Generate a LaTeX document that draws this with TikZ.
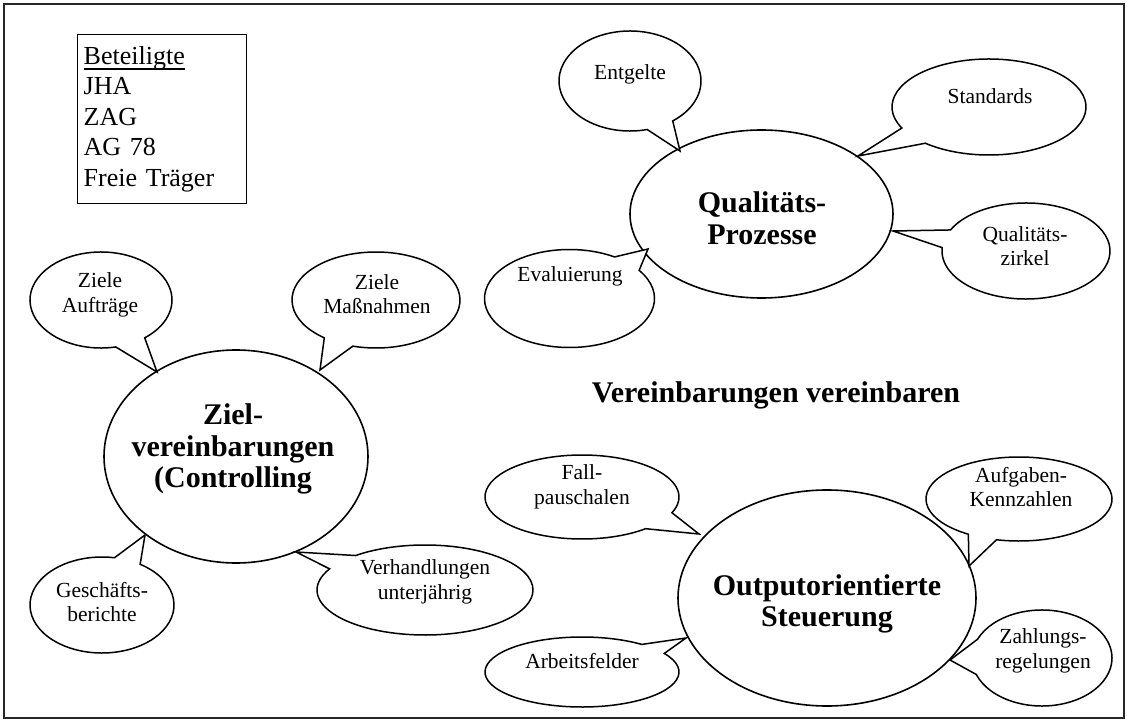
\documentclass[tikz,border=0pt]{standalone}
\usepackage{fontspec}
\setmainfont{Liberation Serif}
\usetikzlibrary{shapes.geometric}

\tikzset{
  frame/.style={draw=black!85, line width=1.6pt},
  mainell/.style={ellipse, draw, line width=1.6pt, inner sep=0pt},
  bubble/.style={draw, fill=white, line width=1.5pt, line join=miter},
  small/.style={font=\fontsize{21.5}{24.5}\selectfont, align=center, inner sep=0pt},
  big/.style={font=\fontsize{30}{31.5}\selectfont\bfseries, align=center, inner sep=0pt},
  listbox/.style={draw, line width=1.4pt, anchor=north west, text width=157pt,
    inner xsep=6pt, inner ysep=11.5pt, align=left,
    font=\fontsize{26}{30.5}\selectfont},
}

% heavy underline for the list heading
\newcommand\heading[1]{{\setbox0\hbox{#1}\rlap{\rule[-5.5pt]{\wd0}{1.8pt}}\box0}}

% speech bubble: #1 centre (x,y without brackets), #2 x radius, #3 y radius,
% #4/#5 angles where the tail leaves the outline, #6 tail tip
\newcommand\callbubble[6]{%
  \draw[bubble] ([shift={(#5:#2 and #3)}]#1)
    arc[start angle=#5, end angle={#4+360}, x radius=#2, y radius=#3]
    -- #6 -- cycle;}

\begin{document}
\begin{tikzpicture}[x=1pt, y=-1pt]
\useasboundingbox (0,0) rectangle (1128,722);
\draw[frame] (4,4) rectangle (1124,718);

% list of participants
\node[listbox] (bet) at (77,34)
  {\heading{Beteiligte}\\JHA\\ZAG\\AG 78\\Freie Träger};

% the three central topics
\node[mainell, minimum width=263pt, minimum height=168pt] (qual) at (761.5,214) {};
\node[big] (qualtext) at (762,218) {Qualitäts-\\Prozesse};

\node[mainell, minimum width=264pt, minimum height=213pt] (ziel) at (236,456.5) {};
\node[big] (zieltext) at (233,449) {Ziel-\\vereinbarungen\\(Controlling};

\node[mainell, minimum width=298pt, minimum height=216pt] (out) at (827,598) {};
\node[big] (outtext) at (827,604) {Outputorientierte\\Steuerung};

\node[big, anchor=base] (motto) at (776,402) {Vereinbarungen vereinbaren};

% tail tips on the central ellipses
\coordinate (tEnt) at (680,151);
\coordinate (tSta) at (858,156);
\coordinate (tQz)  at (893,231);
\coordinate (tEva) at (648,249);
\coordinate (tZA)  at (157,372);
\coordinate (tZM)  at (320,370);
\coordinate (tGes) at (145,535);
\coordinate (tVer) at (296,552);
\coordinate (tFal) at (699,534);
\coordinate (tArb) at (686,638);
\coordinate (tAuf) at (969,566);
\coordinate (tZah) at (950,660);

% bubbles round Qualitäts-Prozesse
\callbubble{630,81}{71}{50}{53}{76}{(tEnt)}
\node[small, anchor=base] (ent) at (630,80) {Entgelte};

\callbubble{989,107}{97}{48}{131}{154}{(tSta)}
\node[small, anchor=base] (sta) at (990,104) {Standards};

\callbubble{1026,251}{84}{48}{184}{206}{(tQz)}
\node[small] (qz) at (1025,246) {Qualitäts-\\zirkel};

\callbubble{569.5,298.5}{85}{49}{302}{325}{(tEva)}
\node[small, anchor=base] (eva) at (570,282) {Evaluierung};

% bubbles round Zielvereinbarungen
\callbubble{101,300}{71}{48}{52}{78}{(tZA)}
\node[small] (za) at (100,295) {Ziele\\Aufträge};

\callbubble{376,300}{84}{48}{106}{128}{(tZM)}
\node[small] (zm) at (377,294) {Ziele\\Maßnahmen};

\callbubble{102,605}{72}{48}{280}{302}{(tGes)}
\node[small] (ges) at (102,602) {Geschäfts-\\berichte};

\callbubble{425,590}{108}{45}{208}{230}{(tVer)}
\node[small] (ver) at (425,582) {Verhandlungen\\unterjährig};

% bubbles round Outputorientierte Steuerung
\callbubble{582,497}{97}{42}{22}{49}{(tFal)}
\node[small] (fal) at (582,487) {Fall-\\pauschalen};

\callbubble{582,672}{97}{35}{308}{328}{(tArb)}
\node[small, anchor=base] (arb) at (582,668) {Arbeitsfelder};

\callbubble{1019,499}{93}{42}{104}{123}{(tAuf)}
\node[small] (auf) at (1021,487) {Aufgaben-\\Kennzahlen};

\callbubble{1042,658}{70}{48}{160}{203}{(tZah)}
\node[small] (zah) at (1043,651) {Zahlungs-\\regelungen};
\end{tikzpicture}
\end{document}
